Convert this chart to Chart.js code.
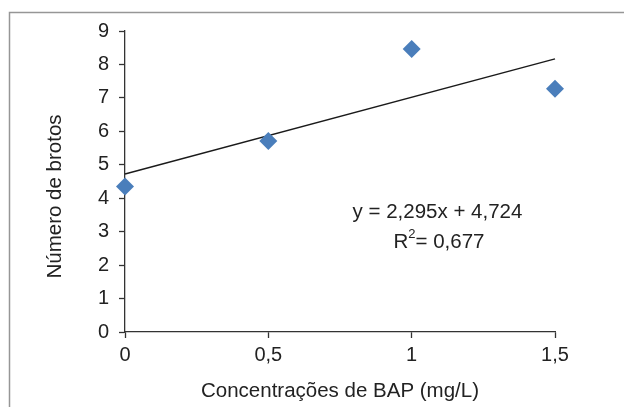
<!DOCTYPE html>
<html><head><meta charset="utf-8">
<script src="https://cdn.jsdelivr.net/npm/chart.js@4/dist/chart.umd.min.js"></script>
<style>html,body{margin:0;padding:0;background:#fff}#wrap{width:624px;height:407px;position:relative}</style>
</head><body><div id="wrap"><canvas id="c" width="624" height="407"></canvas></div>
<script>
// ---- data ----
const concentrations = [0, 0.5, 1, 1.5];
const shoots = [4.35, 5.71, 8.46, 7.27];
const xTickValues = [0, 0.5, 1, 1.5];
const yTickValues = [0, 1, 2, 3, 4, 5, 6, 7, 8, 9];
const trendSlope = 2.295;
const trendIntercept = 4.724;
const rSquaredText = '0,677';
const xTitle = 'Concentrações de BAP (mg/L)';
const yTitle = 'Número de brotos';
const equationText = 'y = 2,295x + 4,724';

const FONT = "'Liberation Sans', Arial, sans-serif";
const TXT = '#222222';
const fmt = v => String(v).replace('.', ',');

const trendData = [xTickValues[0], xTickValues[xTickValues.length - 1]].map(x => ({x, y: trendSlope * x + trendIntercept}));

const decor = {
  id: 'decor',
  beforeDraw(chart) {
    const ctx = chart.ctx;
    ctx.save();
    ctx.strokeStyle = '#969696';
    ctx.lineWidth = 1.5;
    ctx.beginPath();
    ctx.moveTo(9.5, 407);
    ctx.lineTo(9.5, 12.5);
    ctx.lineTo(624, 12.5);
    ctx.stroke();
    ctx.restore();
  },
  afterDraw(chart) {
    const ctx = chart.ctx;
    ctx.save();
    ctx.fillStyle = TXT;
    // y title
    ctx.font = '20.5px ' + FONT;
    ctx.textAlign = 'center';
    ctx.textBaseline = 'middle';
    ctx.translate(55, 196.5);
    ctx.rotate(-Math.PI / 2);
    ctx.fillText(yTitle, 0, 0);
    ctx.restore();

    ctx.save();
    ctx.fillStyle = TXT;
    ctx.font = '20.5px ' + FONT;
    ctx.textBaseline = 'alphabetic';
    ctx.textAlign = 'center';
    ctx.fillText(equationText, 437.5, 218);
    // R^2 line
    const part1 = 'R', part2 = '2', part3 = '= ' + rSquaredText;
    ctx.font = '20.5px ' + FONT;
    const w1 = ctx.measureText(part1).width;
    const w3 = ctx.measureText(part3).width;
    ctx.font = '13px ' + FONT;
    const w2 = ctx.measureText(part2).width;
    const total = w1 + w2 + w3;
    let x = 439 - total / 2;
    const base = 248;
    ctx.textAlign = 'left';
    ctx.font = '20.5px ' + FONT;
    ctx.fillText(part1, x, base); x += w1;
    ctx.font = '13px ' + FONT;
    ctx.fillText(part2, x, base - 10); x += w2;
    ctx.font = '20.5px ' + FONT;
    ctx.fillText(part3, x, base);
    ctx.restore();
  }
};

new Chart(document.getElementById('c'), {
  type: 'scatter',
  data: {
    datasets: [
      {
        label: 'Número de brotos',
        data: concentrations.map((x, i) => ({x, y: shoots[i]})),
        pointStyle: 'rectRot',
        pointRadius: 9,
        pointHoverRadius: 9,
        backgroundColor: '#4a7ebb',
        borderColor: '#4a7ebb',
        borderWidth: 0,
        clip: false,
        order: 1
      },
      {
        type: 'line',
        label: 'Linear',
        data: trendData,
        borderColor: '#1a1a1a',
        borderWidth: 1.4,
        pointRadius: 0,
        showLine: true,
        fill: false,
        clip: false,
        order: 2
      }
    ]
  },
  options: {
    responsive: false,
    animation: false,
    devicePixelRatio: 1,
    layout: {padding: {left: 0, top: 31, right: 69, bottom: 0}},
    plugins: {legend: {display: false}, tooltip: {enabled: false}},
    scales: {
      x: {
        type: 'linear',
        min: 0, max: 1.5,
        afterFit(s) { s.height = 75; },
        afterBuildTicks(s) { s.ticks = xTickValues.map(v => ({value: v})); },
        ticks: {stepSize: 0.5, color: TXT, font: {family: FONT, size: 20}, padding: 5, callback: v => fmt(v), maxRotation: 0},
        grid: {display: true, drawOnChartArea: false, drawTicks: true, tickLength: 6, tickColor: '#333', tickWidth: 1.3},
        border: {display: true, color: '#333', width: 1.3},
        title: {display: true, text: xTitle, color: TXT, font: {family: FONT, size: 20.5}, padding: {top: 0, bottom: 3}}
      },
      y: {
        type: 'linear',
        min: 0, max: 9,
        afterFit(s) { s.width = 125; },
        afterBuildTicks(s) { s.ticks = yTickValues.map(v => ({value: v})); },
        ticks: {stepSize: 1, color: TXT, font: {family: FONT, size: 20}, padding: 10, callback: v => fmt(v)},
        grid: {display: true, drawOnChartArea: false, drawTicks: true, tickLength: 6, tickColor: '#333', tickWidth: 1.3},
        border: {display: true, color: '#333', width: 1.3}
      }
    }
  },
  plugins: [decor]
});
</script></body></html>
